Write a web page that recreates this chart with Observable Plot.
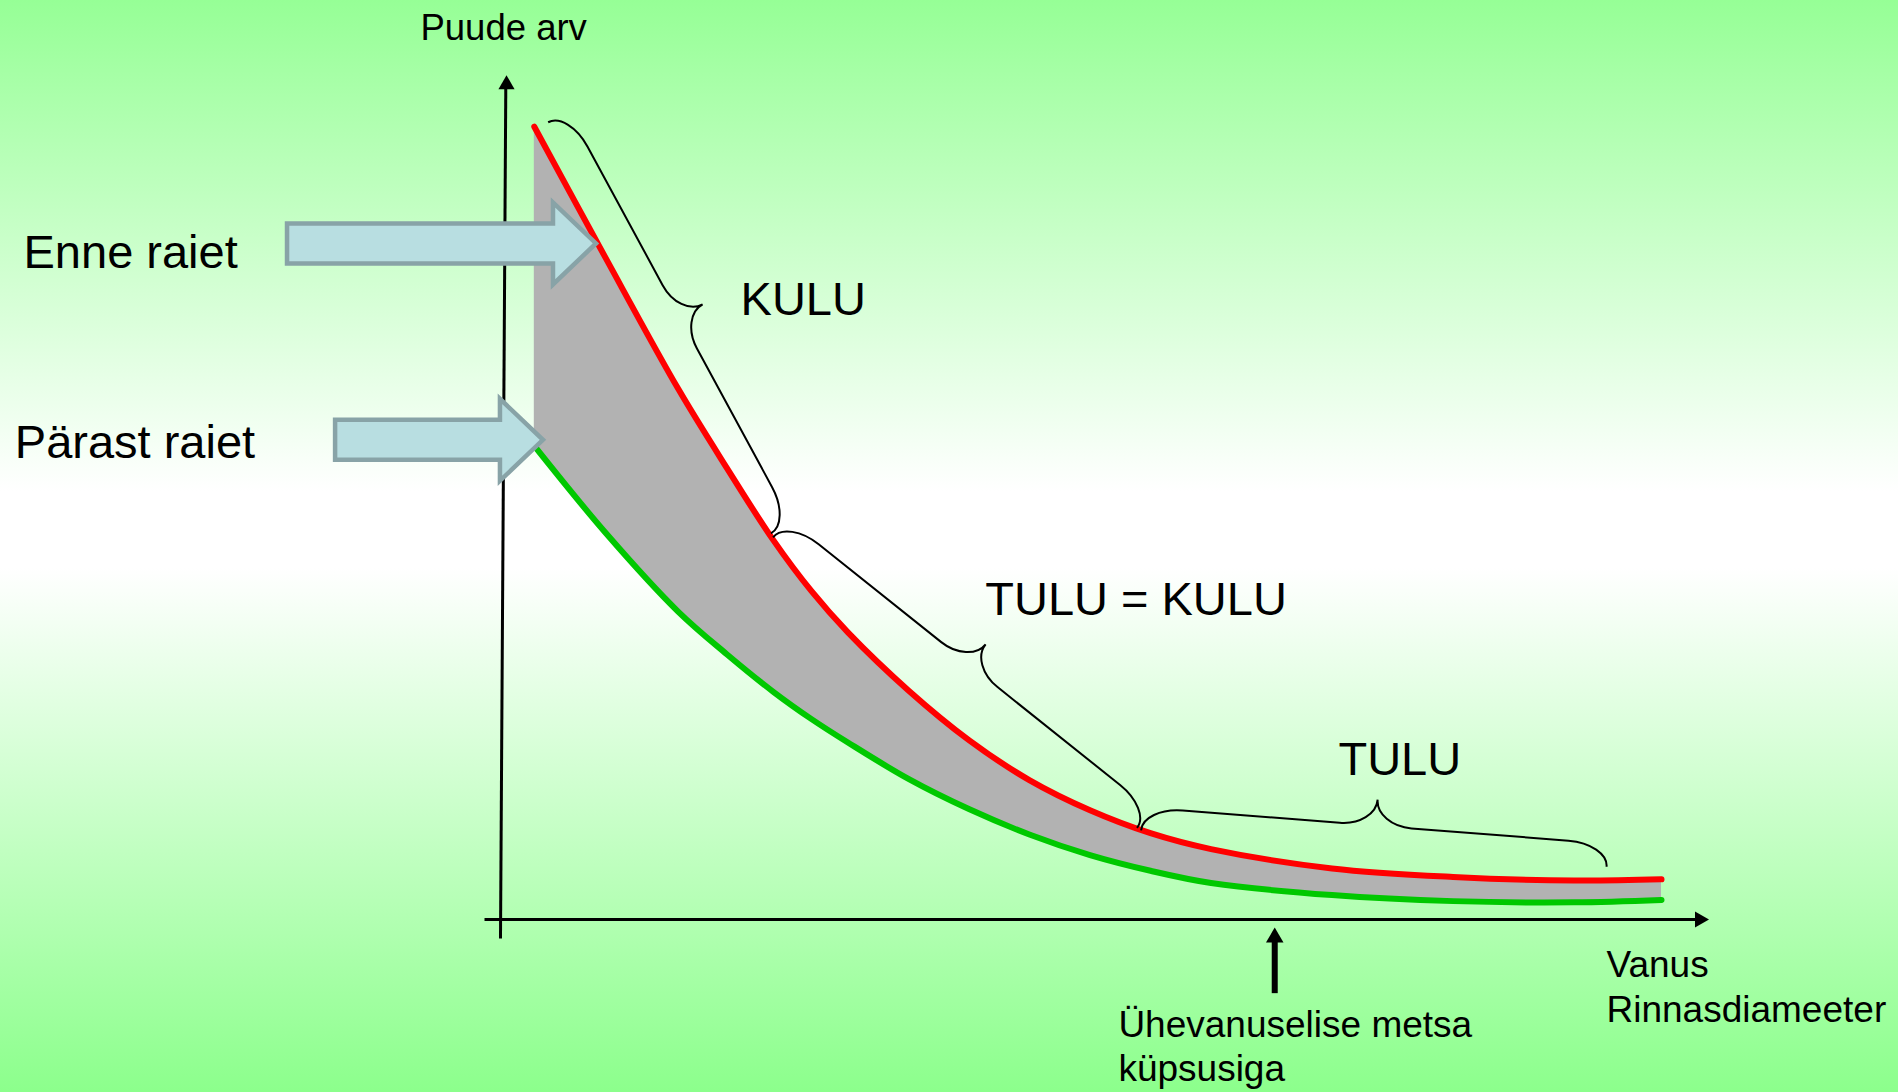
<!DOCTYPE html>
<html>
<head>
<meta charset="utf-8">
<script src="https://cdn.jsdelivr.net/npm/d3@7"></script>
<script src="https://cdn.jsdelivr.net/npm/@observablehq/plot@0.6"></script>
<style>
  html, body { margin: 0; padding: 0; background: #ffffff; }
  #chart svg { display: block; }
</style>
</head>
<body>
<div id="chart"></div>
<script>
// ---- Data ----
// Age / diameter (relative units) at which the curves were sampled
const age = [2.66, 8.83, 15.1, 19.28, 23.3, 26.6, 29.74, 34.97, 40.19, 45.41, 50.65, 55.87, 61.1, 71.55, 82.0, 92.46, 100];
// Number of trees before the cutting ("Enne raiet", red)
const enneRaiet = [100.1, 83.5, 66.97, 57.03, 47.9, 41.45, 36.25, 28.92, 22.65, 17.6, 13.79, 10.9, 8.89, 6.45, 5.38, 4.92, 5.07];
// Number of trees after the cutting ("Pärast raiet", green)
const parastRaiet = [59.8, 48.8, 38.85, 33.5, 28.75, 25.3, 22.35, 17.75, 13.94, 10.73, 8.13, 6.15, 4.61, 3.08, 2.32, 2.17, 2.47];

// Texts
const yAxisLabel = "Puude arv";
const xAxisLabel = ["Vanus", "Rinnasdiameeter"];
const seriesLabels = ["Enne raiet", "Pärast raiet"];
const phaseLabels = ["KULU", "TULU = KULU", "TULU"];
const maturityLabel = ["Ühevanuselise metsa", "küpsusiga"];

// Age at which an even-aged forest matures
const maturityAge = 66.6;

// ---- Table for the library ----
const rows = age.map((a, i) => ({age: a, enne: enneRaiet[i], parast: parastRaiet[i]}));

// ---- Annotation anchors (data units) ----
const braces = [
  {x1: 3.9, y1: 100.6, x2: 23.14, y2: 48.7},
  {x1: 23.32, y1: 48.2, x2: 54.75, y2: 11.5},
  {x1: 55.1, y1: 11.2, x2: 95.3, y2: 6.6}
];
const blockArrows = [
  {tail: -18.65, tip: 8.03, y: 85.3},
  {tail: -14.5, tip: 3.45, y: 60.5}
];

function bracePath(x1, y1, x2, y2) {
  const w = 49, h = 23, r = 40, rt = 36;
  const L = Math.hypot(x2 - x1, y2 - y1);
  const ux = (x2 - x1) / L, uy = (y2 - y1) / L;
  const nx = uy, ny = -ux;
  const P = (u, v) => `${(x1 + u * ux + v * nx).toFixed(2)},${(y1 + u * uy + v * ny).toFixed(2)}`;
  const m = L / 2;
  return `M${P(0, 0)} C${P(0, 0.552 * h)} ${P(0.448 * r, h)} ${P(r, h)} ` +
    `L${P(m - rt, h)} C${P(m - 0.448 * rt, h)} ${P(m, w - 0.552 * (w - h))} ${P(m, w)} ` +
    `C${P(m, w - 0.552 * (w - h))} ${P(m + 0.448 * rt, h)} ${P(m + rt, h)} ` +
    `L${P(L - r, h)} C${P(L - 0.448 * r, h)} ${P(L, 0.552 * h)} ${P(L, 0)}`;
}

const font = "Liberation Sans, Arial, Helvetica, sans-serif";

const chart = Plot.plot({
  width: 1898,
  height: 1092,
  marginLeft: 503,
  marginRight: 237,
  marginTop: 127,
  marginBottom: 173,
  x: {domain: [0, 100], axis: null},
  y: {domain: [0, 100], axis: null},
  style: {
    background: "linear-gradient(to bottom, #96ff96 0%, #ffffff 45%, #ffffff 52%, #8cff8c 100%)",
    fontFamily: font,
    overflow: "visible"
  },
  marks: [
    // shaded band between the two curves
    Plot.areaY(rows, {x: "age", y1: "parast", y2: "enne", fill: "#b2b2b2", curve: "catmull-rom"}),
    // axes (arrows)
    Plot.link([{x1: -0.26, y1: -2.4, x2: 0.2, y2: 105.5}], {x1: "x1", y1: "y1", x2: "x2", y2: "y2", stroke: "black", strokeWidth: 3}),
    Plot.dot([{x: 0.26, y: 106.6}], {x: "x", y: "y", symbol: "triangle", r: 6, fill: "black", dy: 9.3}),
    Plot.link([{x1: -1.64, y1: 0, x2: 103.3, y2: 0}], {x1: "x1", y1: "y1", x2: "x2", y2: "y2", stroke: "black", strokeWidth: 3}),
    Plot.dot([{x: 104.1, y: 0}], {x: "x", y: "y", symbol: "triangle", r: 6, fill: "black", rotate: 90, dx: -9.3}),
    // curves
    Plot.line(rows, {x: "age", y: "parast", stroke: "#00c800", strokeWidth: 6, curve: "catmull-rom"}),
    Plot.line(rows, {x: "age", y: "enne", stroke: "#ff0000", strokeWidth: 6, curve: "catmull-rom"}),
    // braces
    (index, {x, y}) => {
      const g = d3.create("svg:g").attr("fill", "none").attr("stroke", "black").attr("stroke-width", 2);
      for (const b of braces) g.append("path").attr("d", bracePath(x(b.x1), y(b.y1), x(b.x2), y(b.y2)));
      return g.node();
    },
    // block arrows pointing at the curves
    (index, {x, y}) => {
      const g = d3.create("svg:g");
      const bh = 20, hh = 41, hl = 43;
      for (const a of blockArrows) {
        const xt = x(a.tail), xh = x(a.tip), yc = y(a.y);
        const pts = [[xt, yc - bh], [xh - hl, yc - bh], [xh - hl, yc - hh], [xh, yc], [xh - hl, yc + hh], [xh - hl, yc + bh], [xt, yc + bh]];
        g.append("polygon")
          .attr("points", pts.map(p => p.map(v => v.toFixed(2)).join(",")).join(" "))
          .attr("fill", "#b8dee1").attr("stroke", "#88a3a7").attr("stroke-width", 4.5);
      }
      return g.node();
    },
    // maturity arrow
    Plot.link([{x: maturityAge, y1: -9.3, y2: -2.2}], {x1: "x", x2: "x", y1: "y1", y2: "y2", stroke: "black", strokeWidth: 6}),
    Plot.dot([{x: maturityAge, y: -1.0}], {x: "x", y: "y", symbol: "triangle", r: 6.5, fill: "black", dy: 10.1}),
    // texts
    Plot.text([yAxisLabel], {x: -7.17, y: 111.0, text: d => d, fontSize: 36.5, textAnchor: "start", lineAnchor: "bottom", fill: "black", fontFamily: font}),
    Plot.text(seriesLabels, {x: [-41.45, -42.2], y: [82.2, 58.3], text: d => d, fontSize: 47, textAnchor: "start", lineAnchor: "bottom", fill: "black", fontFamily: font}),
    Plot.text(phaseLabels, {x: [20.47, 41.6, 72.1], y: [76.3, 38.5, 18.3], text: d => d, fontSize: 47, textAnchor: "start", lineAnchor: "bottom", fill: "black", fontFamily: font}),
    Plot.text(xAxisLabel, {x: [95.25, 95.25], y: [-7.3, -13.0], text: d => d, fontSize: 37, textAnchor: "start", lineAnchor: "bottom", fill: "black", fontFamily: font}),
    Plot.text(maturityLabel, {x: [53.1, 53.1], y: [-14.8, -20.45], text: d => d, fontSize: 37, textAnchor: "start", lineAnchor: "bottom", fill: "black", fontFamily: font})
  ]
});

document.getElementById("chart").appendChild(chart);
</script>
</body>
</html>
